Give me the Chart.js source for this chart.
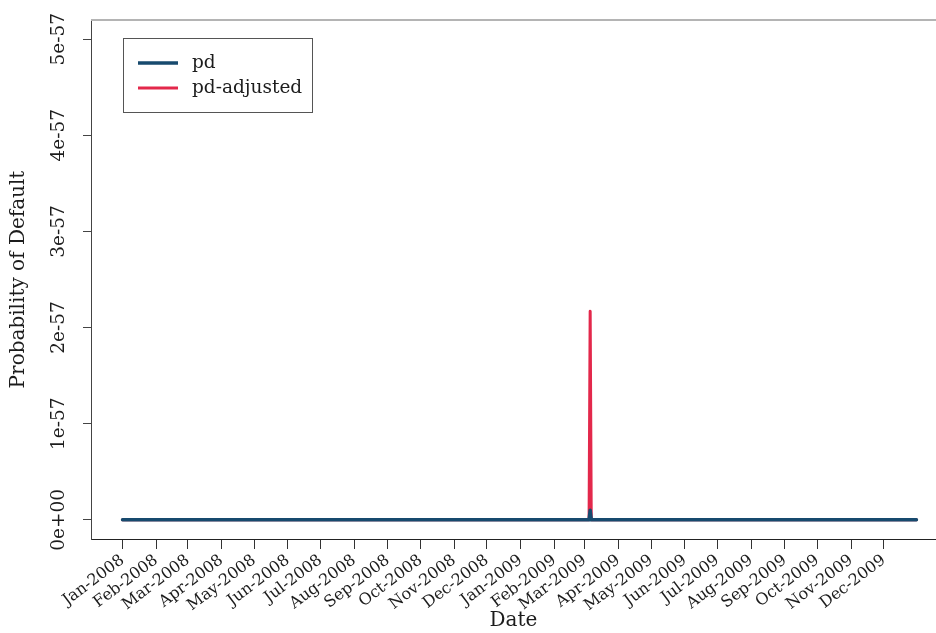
<!DOCTYPE html>
<html>
<head>
<meta charset="utf-8">
<script src="https://cdn.jsdelivr.net/npm/chart.js@4.4.1/dist/chart.umd.min.js"></script>
<style>
  html, body { margin: 0; padding: 0; background: #ffffff; overflow: hidden; }
  #wrap { width: 936px; height: 633px; }
</style>
</head>
<body>
<div id="wrap"><canvas id="pdChart" width="936" height="633"></canvas></div>
<script>
// Probability of default, 2008-2009 (dates where the series changes)
const pdDates = ['2008-01-01', '2009-03-05', '2009-03-06', '2009-03-07', '2009-12-31'];
const pdValues = [0, 0, 1.0e-58, 0, 0];

const pdAdjustedDates = ['2008-01-01', '2009-03-05', '2009-03-06', '2009-03-07', '2009-12-31'];
const pdAdjustedValues = [0, 0, 2.17e-57, 0, 0];

// Axis ticks
const monthLabels = [
  'Jan-2008', 'Feb-2008', 'Mar-2008', 'Apr-2008', 'May-2008', 'Jun-2008',
  'Jul-2008', 'Aug-2008', 'Sep-2008', 'Oct-2008', 'Nov-2008', 'Dec-2008',
  'Jan-2009', 'Feb-2009', 'Mar-2009', 'Apr-2009', 'May-2009', 'Jun-2009',
  'Jul-2009', 'Aug-2009', 'Sep-2009', 'Oct-2009', 'Nov-2009', 'Dec-2009'
];
const yTickValues = [0, 1e-57, 2e-57, 3e-57, 4e-57, 5e-57];
const yTickLabels = ['0e+00', '1e-57', '2e-57', '3e-57', '4e-57', '5e-57'];

// Visible date window of the x axis
const xRangeStart = '2007-12-03';
const xRangeEnd = '2010-01-18';

// ---- helpers ----
const DAY_MS = 86400000;
const ORIGIN = Date.UTC(2008, 0, 1);
const MONTHS = ['Jan','Feb','Mar','Apr','May','Jun','Jul','Aug','Sep','Oct','Nov','Dec'];
const UNIT = 1e-57; // values are plotted in units of 1e-57
const dayOf = s => (Date.parse(s + 'T00:00:00Z') - ORIGIN) / DAY_MS;
const monthTickDays = monthLabels.map(l => {
  const [m, y] = l.split('-');
  return (Date.UTC(+y, MONTHS.indexOf(m), 1) - ORIGIN) / DAY_MS;
});
const toPoints = (dates, vals) => dates.map((d, i) => ({ x: dayOf(d), y: vals[i] / UNIT }));

const SERIF = '"DejaVu Serif", "Liberation Serif", serif';
const INK = '#1c1c1c';

// Rotated y tick labels, top frame line and boxed legend
const decorations = {
  id: 'decorations',
  afterDraw(chart) {
    const { ctx, chartArea } = chart;
    const ys = chart.scales.y;

    ctx.save();
    // top frame line
    ctx.strokeStyle = '#b4b4b4';
    ctx.lineWidth = 2;
    ctx.beginPath();
    ctx.moveTo(chartArea.left, chartArea.top);
    ctx.lineTo(chartArea.right, chartArea.top);
    ctx.stroke();

    // y tick labels, reading bottom to top
    ctx.fillStyle = INK;
    ctx.font = '18.5px ' + SERIF;
    ctx.textAlign = 'center';
    ctx.textBaseline = 'middle';
    yTickValues.forEach((v, i) => {
      const py = ys.getPixelForValue(v / UNIT);
      ctx.save();
      ctx.translate(chartArea.left - 31.5, py);
      ctx.rotate(-Math.PI / 2);
      ctx.fillText(yTickLabels[i], 0, 0);
      ctx.restore();
    });

    // legend
    const bx = chartArea.left + 32, by = chartArea.top + 18, bw = 189, bh = 74;
    ctx.strokeStyle = '#555555';
    ctx.lineWidth = 1;
    ctx.strokeRect(bx + 0.5, by + 0.5, bw, bh);
    ctx.font = '18.5px ' + SERIF;
    ctx.textAlign = 'left';
    ctx.textBaseline = 'alphabetic';
    chart.data.datasets.forEach((ds, i) => {
      const ly = by + 25 + i * 25;
      ctx.strokeStyle = ds.borderColor;
      ctx.lineWidth = ds.borderWidth;
      ctx.lineCap = 'butt';
      ctx.beginPath();
      ctx.moveTo(bx + 15, ly);
      ctx.lineTo(bx + 55, ly);
      ctx.stroke();
      ctx.fillStyle = INK;
      ctx.fillText(ds.label, bx + 69, ly + 4.5);
    });
    ctx.restore();
  }
};

new Chart(document.getElementById('pdChart'), {
  type: 'line',
  data: {
    datasets: [
      {
        label: 'pd',
        data: toPoints(pdDates, pdValues),
        borderColor: '#174a6e',
        borderWidth: 3.5,
        pointRadius: 0,
        borderCapStyle: 'round',
        borderJoinStyle: 'round',
        tension: 0
      },
      {
        label: 'pd-adjusted',
        data: toPoints(pdAdjustedDates, pdAdjustedValues),
        borderColor: '#e3284b',
        borderWidth: 3,
        pointRadius: 0,
        borderCapStyle: 'round',
        borderJoinStyle: 'round',
        tension: 0
      }
    ]
  },
  options: {
    responsive: false,
    animation: false,
    devicePixelRatio: 1,
    layout: { padding: { top: 20, right: 0, left: 0, bottom: 0 } },
    plugins: {
      legend: { display: false },
      tooltip: { enabled: false }
    },
    scales: {
      x: {
        type: 'linear',
        min: dayOf(xRangeStart),
        max: dayOf(xRangeEnd),
        afterBuildTicks: s => { s.ticks = monthTickDays.map(v => ({ value: v })); },
        afterFit: s => { s.height = 94; },
        ticks: {
          autoSkip: false,
          minRotation: 37,
          maxRotation: 37,
          padding: 2,
          color: INK,
          font: { family: SERIF, size: 16 },
          callback: (v, i) => monthLabels[i]
        },
        grid: { drawOnChartArea: false, drawTicks: true, tickLength: 10, color: '#333333', lineWidth: 1 },
        border: { display: true, color: '#222222', width: 1 },
        title: {
          display: true,
          text: 'Date',
          color: INK,
          font: { family: SERIF, size: 20 },
          padding: { top: 0, bottom: 0 }
        }
      },
      y: {
        type: 'linear',
        min: -0.2,
        max: 5.2,
        afterBuildTicks: s => { s.ticks = yTickValues.map(v => ({ value: v / UNIT })); },
        afterFit: s => { s.width = 91; },
        ticks: { display: false },
        grid: { drawOnChartArea: false, drawTicks: true, tickLength: 8, color: '#444444', lineWidth: 1 },
        border: { display: true, color: '#444444', width: 1 },
        title: {
          display: true,
          text: 'Probability of Default',
          color: INK,
          font: { family: SERIF, size: 20 },
          padding: { top: 7, bottom: 0 }
        }
      }
    }
  },
  plugins: [decorations]
});
</script>
</body>
</html>
